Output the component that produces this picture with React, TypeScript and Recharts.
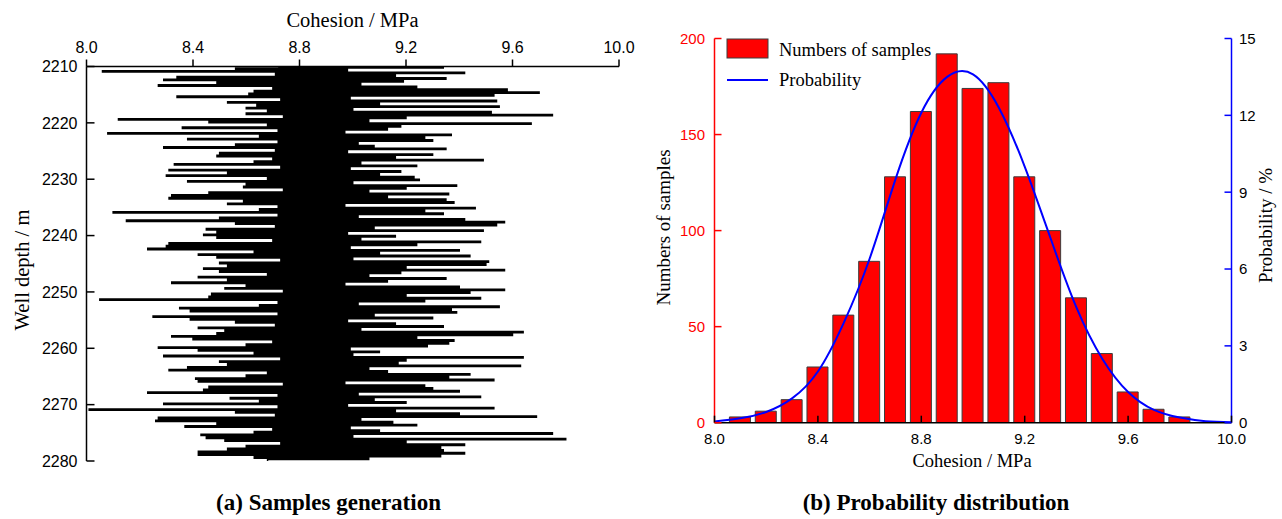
import React from "react";
import { LineChart, Line, XAxis, YAxis, ComposedChart, Bar } from "recharts";

// (a) cohesion samples along the well, top to bottom (0.25 m apart)
const depthStart = 2210;
const depthStep = 0.25;
const cohesionSamples = [
  8.72, 9.34, 8.56, 8.98, 8.06, 9.42, 8.71, 9.16, 8.34, 9.35,
  8.29, 9.19, 8.49, 9.03, 8.27, 9.24, 8.7, 9.58, 8.63, 9.7,
  8.61, 9.53, 8.34, 8.99, 8.73, 9.54, 8.53, 9.1, 8.64, 9.55,
  8.6, 9.0, 8.68, 9.52, 8.6, 9.75, 8.74, 9.2, 8.12, 9.06,
  8.46, 9.67, 8.68, 9.18, 8.36, 9.13, 8.72, 8.97, 8.08, 9.37,
  8.65, 9.27, 8.38, 9.3, 8.72, 9.02, 8.56, 9.08, 8.29, 9.35,
  8.71, 8.98, 8.5, 9.3, 8.49, 9.16, 8.7, 9.49, 8.63, 9.03,
  8.33, 9.24, 8.73, 8.99, 8.31, 9.18, 8.53, 9.1, 8.3, 9.23,
  8.68, 9.25, 8.38, 9.0, 8.6, 9.39, 8.59, 9.2, 8.74, 9.06,
  8.46, 9.36, 8.32, 9.13, 8.31, 9.35, 8.59, 9.38, 8.53, 8.97,
  8.72, 9.46, 8.65, 9.27, 8.1, 9.34, 8.72, 9.02, 8.5, 9.42,
  8.15, 9.57, 8.56, 9.54, 8.71, 9.08, 8.45, 9.49, 8.49, 8.98,
  8.44, 9.16, 8.49, 9.03, 8.7, 9.48, 8.31, 9.24, 8.3, 8.99,
  8.23, 9.4, 8.63, 9.1, 8.42, 9.44, 8.49, 9.0, 8.73, 9.51,
  8.5, 9.5, 8.53, 9.2, 8.44, 9.57, 8.5, 9.18, 8.68, 9.06,
  8.42, 9.35, 8.53, 9.13, 8.32, 8.97, 8.6, 9.4, 8.52, 9.57,
  8.74, 9.44, 8.47, 9.2, 8.46, 9.48, 8.05, 9.27, 8.72, 9.02,
  8.65, 9.55, 8.35, 9.37, 8.39, 9.39, 8.72, 9.08, 8.25, 9.3,
  8.39, 8.98, 8.56, 9.16, 8.71, 9.34, 8.42, 9.03, 8.52, 9.64,
  8.49, 9.6, 8.32, 9.24, 8.4, 9.38, 8.7, 9.36, 8.6, 9.28,
  8.27, 8.99, 8.42, 9.1, 8.63, 9.0, 8.29, 9.64, 8.73, 9.2,
  8.5, 9.17, 8.53, 9.63, 8.38, 9.06, 8.31, 9.13, 8.68, 9.44,
  8.6, 9.36, 8.41, 9.53, 8.42, 8.97, 8.74, 9.27, 8.46, 9.3,
  8.44, 9.4, 8.23, 9.02, 8.72, 9.48, 8.54, 9.08, 8.65, 9.2,
  8.29, 8.98, 8.72, 9.53, 8.01, 9.16, 8.56, 9.4, 8.71, 9.69,
  8.27, 9.03, 8.26, 9.15, 8.49, 9.24, 8.37, 8.99, 8.7, 9.1,
  8.63, 9.75, 8.43, 9.0, 8.45, 9.8, 8.52, 9.2, 8.73, 9.42,
  8.6, 9.33, 8.53, 9.34, 8.42, 9.42, 8.42, 9.33, 8.63, 9.06, 8.68,
];
const depthTicks = [2210, 2220, 2230, 2240, 2250, 2260, 2270, 2280];
const cohesionTicks = [8.0, 8.4, 8.8, 9.2, 9.6, 10.0];

// (b) histogram + probability curve
const binCenters = [
  8.0, 8.1, 8.2, 8.3, 8.4, 8.5, 8.6, 8.7, 8.8, 8.9, 9.0,
  9.1, 9.2, 9.3, 9.4, 9.5, 9.6, 9.7, 9.8, 9.9, 10.0,
];
const sampleCounts = [
  null, 3, 6, 12, 29, 56, 84, 128, 162, 192, 174,
  177, 128, 100, 65, 36, 16, 7, 3, null, null,
];
const probability = [
  0.05, 0.17, 0.42, 0.95, 2.0, 3.9, 6.4, 9.5, 12.1, 13.5, 13.6,
  12.3, 10.0, 7.2, 4.5, 2.5, 1.2, 0.5, 0.2, 0.06, 0.02,
];
const countTicks = [0, 50, 100, 150, 200];
const probTicks = [0, 3, 6, 9, 12, 15];

const sampleData = cohesionSamples.map((c, i) => ({
  depth: depthStart + i * depthStep,
  cohesion: c,
}));
const histData = binCenters.map((x, i) => ({
  x,
  count: sampleCounts[i],
  prob: probability[i],
}));

const SANS = "'Liberation Sans', Arial, sans-serif";
const SERIF = "'Liberation Serif', 'Times New Roman', serif";

// tick with the mark drawn inside the plot and the label outside
const insideTick =
  (side: "left" | "right" | "bottom", margin: number, len: number, lineColor: string, textColor: string, fontSize: number, fmt?: (v: number) => string) =>
  (props: any) => {
    const { x, y, payload } = props;
    const label = fmt ? fmt(payload.value) : String(payload.value);
    if (side === "left") {
      const ax = x + margin;
      return (
        <g>
          <line x1={ax} x2={ax + len} y1={y} y2={y} stroke={lineColor} strokeWidth={1.5} />
          <text x={x} y={y} dy="0.36em" textAnchor="end" fill={textColor} fontSize={fontSize} fontFamily={SANS}>
            {label}
          </text>
        </g>
      );
    }
    if (side === "right") {
      const ax = x - margin;
      return (
        <g>
          <line x1={ax} x2={ax - len} y1={y} y2={y} stroke={lineColor} strokeWidth={1.5} />
          <text x={x} y={y} dy="0.36em" textAnchor="start" fill={textColor} fontSize={fontSize} fontFamily={SANS}>
            {label}
          </text>
        </g>
      );
    }
    const ay = y - margin;
    return (
      <g>
        <line x1={x} x2={x} y1={ay} y2={ay - len} stroke={lineColor} strokeWidth={1.5} />
        <text x={x} y={y} dy="0.72em" textAnchor="middle" fill={textColor} fontSize={fontSize} fontFamily={SANS}>
          {label}
        </text>
      </g>
    );
  };

const fmt1 = (v: number) => v.toFixed(1);

export default function App() {
  return (
    <div style={{ position: "absolute", left: 0, top: 0, width: 1282, height: 519, background: "#fff" }}>
      {/* (a) Samples generation */}
      <div style={{ position: "absolute", left: 0, top: 0 }}>
        <LineChart
          width={640}
          height={519}
          data={sampleData}
          layout="vertical"
          margin={{ top: 26.5, right: 21, bottom: 58, left: 26.5 }}
        >
          <XAxis
            type="number"
            orientation="top"
            domain={[8, 10]}
            ticks={cohesionTicks}
            tickFormatter={fmt1}
            allowDataOverflow
            height={40}
            tickSize={7}
            tickMargin={7}
            axisLine={{ stroke: "#000", strokeWidth: 1.5 }}
            tickLine={{ stroke: "#000", strokeWidth: 1.5 }}
            tick={{ fontSize: 16, fill: "#000", fontFamily: SANS }}
          />
          <YAxis
            type="number"
            dataKey="depth"
            domain={[2210, 2280]}
            ticks={depthTicks}
            allowDataOverflow
            width={60}
            tickSize={0}
            tickMargin={9}
            axisLine={{ stroke: "#000", strokeWidth: 1.5 }}
            tickLine={false}
            tick={insideTick("left", 9, 8, "#000", "#000", 16)}
          />
          <Line
            dataKey="cohesion"
            type="stepAfter"
            stroke="#000"
            strokeWidth={1.45}
            dot={false}
            isAnimationActive={false}
          />
        </LineChart>
      </div>

      {/* (b) Probability distribution */}
      <div style={{ position: "absolute", left: 640, top: 0 }}>
        <ComposedChart
          width={642}
          height={519}
          data={histData}
          margin={{ top: 38.5, right: 10.5, bottom: 66.3, left: 24.5 }}
        >
          <XAxis
            type="number"
            dataKey="x"
            domain={[8, 10]}
            ticks={cohesionTicks}
            allowDataOverflow
            height={30}
            tickSize={0}
            tickMargin={10}
            axisLine={{ stroke: "#000", strokeWidth: 1.5 }}
            tickLine={false}
            tick={insideTick("bottom", 10, 7, "#000", "#000", 15, fmt1)}
          />
          <YAxis
            yAxisId="count"
            domain={[0, 200]}
            ticks={countTicks}
            allowDataOverflow
            width={50}
            tickSize={0}
            tickMargin={9.5}
            axisLine={{ stroke: "#ff0000", strokeWidth: 1.5 }}
            tickLine={false}
            tick={insideTick("left", 9.5, 7, "#ff0000", "#ff0000", 15)}
          />
          <YAxis
            yAxisId="prob"
            orientation="right"
            domain={[0, 15]}
            ticks={probTicks}
            allowDataOverflow
            width={40}
            tickSize={0}
            tickMargin={7.5}
            axisLine={{ stroke: "#0000ff", strokeWidth: 1.5 }}
            tickLine={false}
            tick={insideTick("right", 7.5, 7, "#0000ff", "#000", 15)}
          />
          <Bar
            yAxisId="count"
            dataKey="count"
            fill="#ff0000"
            stroke="#3c3c3c"
            strokeWidth={1}
            barSize={21}
            isAnimationActive={false}
          />
          <Line
            yAxisId="prob"
            dataKey="prob"
            type="natural"
            stroke="#0000ff"
            strokeWidth={2}
            dot={false}
            isAnimationActive={false}
          />
        </ComposedChart>
      </div>

      {/* titles, legend and captions */}
      <svg
        width={1282}
        height={519}
        style={{ position: "absolute", left: 0, top: 0, pointerEvents: "none" }}
      >
        <g fontFamily={SERIF} fill="#000">
          <text x={352.5} y={27} fontSize={20.5} textAnchor="middle">Cohesion / MPa</text>
          <text transform="translate(29,270) rotate(-90)" fontSize={20.5} textAnchor="middle">Well depth / m</text>
          <text transform="translate(670,227.5) rotate(-90)" fontSize={19} textAnchor="middle">Numbers of samples</text>
          <text transform="translate(1272,225.5) rotate(-90)" fontSize={19} textAnchor="middle">Probability / %</text>
          <text x={972} y={467} fontSize={18.5} textAnchor="middle">Cohesion / MPa</text>
          <text x={328.5} y={510} fontSize={23} fontWeight="bold" textAnchor="middle">(a) Samples generation</text>
          <text x={936} y={510} fontSize={23} fontWeight="bold" textAnchor="middle">(b) Probability distribution</text>

          <rect x={727} y={39} width={41} height={19} fill="#ff0000" stroke="#3c3c3c" strokeWidth={1} />
          <text x={779} y={56} fontSize={18.5}>Numbers of samples</text>
          <line x1={727} x2={768} y1={80} y2={80} stroke="#0000ff" strokeWidth={2} />
          <text x={779} y={86} fontSize={18.5}>Probability</text>
        </g>
      </svg>
    </div>
  );
}
